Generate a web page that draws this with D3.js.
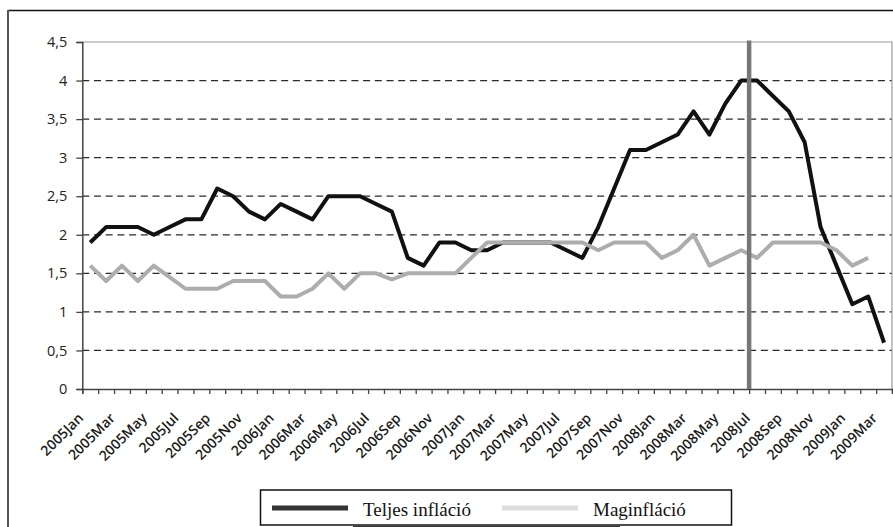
<!DOCTYPE html>
<html>
<head>
<meta charset="utf-8">
<script src="https://cdn.jsdelivr.net/npm/d3@7"></script>
<style>
  body { margin: 0; background: #fff; }
  svg { display: block; }
</style>
</head>
<body>
<div class="main-container"></div>
<script>
// data
const years = [2005, 2006, 2007, 2008, 2009];
const monthNames = ["Jan", "Feb", "Mar", "Apr", "May", "Jun", "Jul", "Aug", "Sep", "Oct", "Nov", "Dec"];
const categories = years.flatMap(y => monthNames.map(m => y + m)).slice(0, 51);

const teljes = [1.9, 2.1, 2.1, 2.1, 2.0, 2.1, 2.2, 2.2, 2.6, 2.5, 2.3, 2.2,
  2.4, 2.3, 2.2, 2.5, 2.5, 2.5, 2.4, 2.3, 1.7, 1.6, 1.9, 1.9,
  1.8, 1.8, 1.9, 1.9, 1.9, 1.9, 1.8, 1.7, 2.1, 2.6, 3.1, 3.1,
  3.2, 3.3, 3.6, 3.3, 3.7, 4.0, 4.0, 3.8, 3.6, 3.2, 2.1, 1.6,
  1.1, 1.2, 0.6];

const maginflacio = [1.6, 1.4, 1.6, 1.4, 1.6, 1.45, 1.3, 1.3, 1.3, 1.4, 1.4, 1.4,
  1.2, 1.2, 1.3, 1.5, 1.3, 1.5, 1.5, 1.42, 1.5, 1.5, 1.5, 1.5,
  1.7, 1.9, 1.9, 1.9, 1.9, 1.9, 1.9, 1.9, 1.8, 1.9, 1.9, 1.9,
  1.7, 1.8, 2.0, 1.6, 1.7, 1.8, 1.7, 1.9, 1.9, 1.9, 1.9, 1.8,
  1.6, 1.7];

const yTicks = [0, 0.5, 1, 1.5, 2, 2.5, 3, 3.5, 4, 4.5];
const markerMonth = "2008Jul";
const legendNames = ["Teljes infláció", "Maginfláció"];

const width = 893, height = 527;
const plot = {left: 82.3, right: 892, top: 42, bottom: 389};

const svg = d3.select(".main-container")
  .append("svg")
  .attr("width", width)
  .attr("height", height);

// outer frame (cut off at right and bottom)
svg.append("line")
  .attr("x1", 8).attr("x2", width + 5)
  .attr("y1", 10.5).attr("y2", 10.5)
  .attr("stroke", "#111").attr("stroke-width", 1.5);
svg.append("line")
  .attr("x1", 8).attr("x2", 8)
  .attr("y1", 10).attr("y2", height + 5)
  .attr("stroke", "#555").attr("stroke-width", 2);

let x = d3.scaleBand()
  .domain(categories)
  .range([plot.left, plot.right])
  .padding(0);

let xTick = d3.scaleLinear()
  .domain([0, categories.length])
  .range([plot.left, plot.right]);

let y = d3.scaleLinear()
  .domain([0, 4.5])
  .range([plot.bottom, plot.top]);

const cx = d => x(d) + x.bandwidth() / 2;

// grid lines
svg.append("g")
  .selectAll("line")
  .data(yTicks.filter(t => t > 0 && t < 4.5))
  .join("line")
  .attr("x1", plot.left).attr("x2", plot.right)
  .attr("y1", d => y(d)).attr("y2", d => y(d))
  .attr("stroke", "#2a2a2a")
  .attr("stroke-width", 1.3)
  .attr("stroke-dasharray", "7,4.7");

// top and right border of plot
svg.append("path")
  .attr("d", `M${plot.left},${y(4.5)}H${plot.right}V${plot.bottom}`)
  .attr("fill", "none")
  .attr("stroke", "#999")
  .attr("stroke-width", 1.2);

// y axis
const yAxis = svg.append("g")
  .attr("transform", `translate(${plot.left},0)`)
  .call(d3.axisLeft(y)
    .tickValues(yTicks)
    .tickSize(6)
    .tickPadding(9)
    .tickFormat(d => String(d).replace(".", ",")));
yAxis.select(".domain").attr("stroke", "#444").attr("stroke-width", 1.5);
yAxis.selectAll(".tick line").attr("stroke", "#444").attr("stroke-width", 1.3);
yAxis.selectAll(".tick text")
  .attr("fill", "#222")
  .style("font-family", "'Open Sans', sans-serif")
  .style("font-size", "14.5px");

// x axis (ticks between categories)
const xAxis = svg.append("g")
  .attr("transform", `translate(0,${plot.bottom})`)
  .call(d3.axisBottom(xTick)
    .tickValues(d3.range(categories.length + 1))
    .tickSize(5)
    .tickFormat(""));
xAxis.select(".domain").attr("stroke", "#444").attr("stroke-width", 1.5);
xAxis.selectAll(".tick line").attr("stroke", "#444").attr("stroke-width", 1.3);

// x labels, every second month
svg.append("g")
  .selectAll("text")
  .data(categories.filter((d, i) => i % 2 === 0))
  .join("text")
  .attr("transform", d => `translate(${cx(d) - 6},${plot.bottom + 30}) rotate(-45)`)
  .attr("text-anchor", "end")
  .attr("fill", "#1a1a1a")
  .style("font-family", "'Open Sans', sans-serif")
  .style("font-size", "14px")
  .style("font-weight", "600")
  .text(d => d);

const line = d3.line()
  .x((d, i) => cx(categories[i]))
  .y(d => y(d));

svg.append("path")
  .datum(teljes)
  .attr("fill", "none")
  .attr("stroke", "#111")
  .attr("stroke-width", 4)
  .attr("stroke-linejoin", "round")
  .attr("d", line);

svg.append("path")
  .datum(maginflacio)
  .attr("fill", "none")
  .attr("stroke", "#adadad")
  .attr("stroke-width", 4)
  .attr("stroke-linejoin", "round")
  .attr("d", line);

// vertical marker
svg.append("line")
  .attr("x1", x(markerMonth)).attr("x2", x(markerMonth))
  .attr("y1", plot.top - 1.5).attr("y2", plot.bottom)
  .attr("stroke", "#777")
  .attr("stroke-width", 4.5);

// legend
const legend = svg.append("g");
legend.append("line")
  .attr("x1", 353).attr("x2", 620)
  .attr("y1", 526.5).attr("y2", 526.5)
  .attr("stroke", "#333").attr("stroke-width", 1);
legend.append("rect")
  .attr("x", 260.5).attr("y", 490)
  .attr("width", 471).attr("height", 35)
  .attr("fill", "#fff")
  .attr("stroke", "#111")
  .attr("stroke-width", 1.5);

const legendColors = ["#333", "#ddd"];
const legendX = [272, 502];
legendNames.forEach((name, i) => {
  legend.append("line")
    .attr("x1", legendX[i]).attr("x2", legendX[i] + 76)
    .attr("y1", 508).attr("y2", 508)
    .attr("stroke", legendColors[i])
    .attr("stroke-width", 5);
  legend.append("text")
    .attr("x", legendX[i] + 91)
    .attr("y", 516)
    .attr("fill", "#111")
    .style("font-family", "'Liberation Serif', 'Times New Roman', serif")
    .style("font-size", "19px")
    .text(name);
});
</script>
</body>
</html>
